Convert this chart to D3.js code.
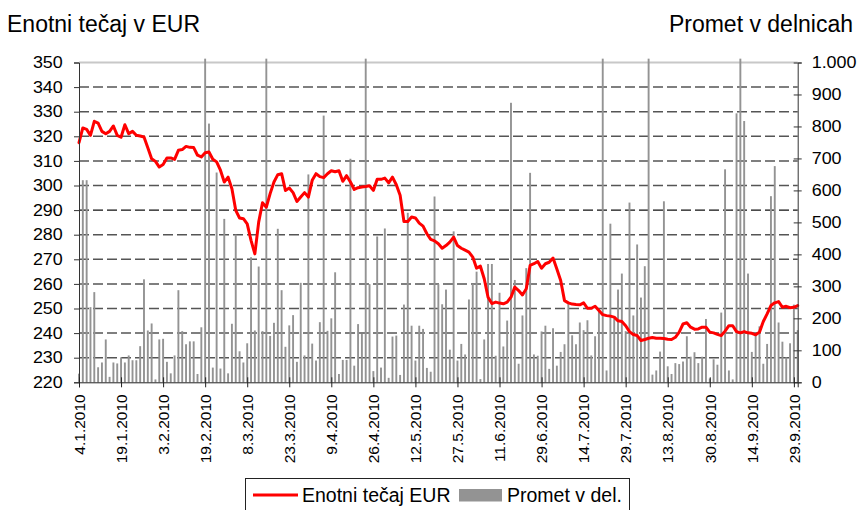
<!DOCTYPE html>
<html>
<head>
<meta charset="utf-8">
<script src="https://cdn.jsdelivr.net/npm/d3@7/dist/d3.min.js"></script>
<style>
  html, body { margin: 0; padding: 0; background: #fff; }
  svg { display: block; font-family: "Liberation Sans", Arial, sans-serif; }
</style>
</head>
<body>
<div id="chart"></div>
<script>
// ── Data ──────────────────────────────────────────────────────────────────────
// Trading days 4.1.2010 – 30.9.2010 (weekdays minus exchange holidays)
const firstDay = '2010-01-04';
const lastDay  = '2010-09-30';
const holidays = ['2010-02-08', '2010-04-02', '2010-04-05', '2010-04-27', '2010-06-25'];

const tickLabels = [
  '4.1.2010', '19.1.2010', '3.2.2010', '19.2.2010', '8.3.2010', '23.3.2010',
  '9.4.2010', '26.4.2010', '12.5.2010', '27.5.2010', '11.6.2010', '29.6.2010',
  '14.7.2010', '29.7.2010', '13.8.2010', '30.8.2010', '14.9.2010', '29.9.2010'
];

// Enotni tečaj (EUR), one value per trading day
const price = [
  317.4, 323.4, 322.8, 320.4, 326.1, 325.4, 322, 321, 322, 324.2,
  320.4, 319.6, 324.7, 321.1, 322, 320.4, 320.1, 319.7, 315.3, 310.9,
  309.8, 307.5, 308.5, 311.2, 311.2, 310.6, 314.3, 314.6, 315.9, 315.5,
  315.4, 312.3, 311.6, 313.3, 313.6, 310.7, 309.6, 306.2, 301.4, 303.4,
  298.7, 289.9, 286.8, 286.5, 284.4, 277.7, 272.2, 285.1, 293, 291.2,
  296.7, 301.4, 304.4, 304.8, 298, 299, 297.1, 293.5, 295.3, 297.1,
  295.3, 302.1, 304.8, 303.6, 303.2, 304.8, 306, 305.6, 306, 301.7,
  304, 301.4, 298.4, 299.1, 299.4, 299.6, 299.9, 298, 302.5, 302.5,
  303, 301.1, 303.4, 300.3, 296, 285.4, 285.4, 287.2, 286.8, 284.7,
  283.5, 280.4, 278.1, 277.5, 276.3, 274.5, 275.6, 277, 279, 275.6,
  274.5, 273.7, 272.9, 270.9, 266.4, 267.2, 262.1, 254.6, 252, 252.6,
  252.2, 251.9, 252.6, 254.6, 258.7, 257.3, 255.5, 258, 267.5, 268.2,
  269.1, 266.4, 268.2, 268.8, 270.5, 266.1, 261.4, 253.2, 252.3, 251.8,
  251.6, 251.5, 252.3, 250.1, 250.1, 250.9, 249.2, 247.5, 247.1, 246.9,
  246.5, 245, 244.7, 243, 240.6, 239.4, 239, 237, 237.4, 237.9,
  238.2, 237.9, 237.9, 237.8, 237.5, 237.4, 238.3, 240.4, 243.7, 244.2,
  242.4, 241.6, 241.7, 242.4, 242.4, 240.4, 240.1, 239.5, 239, 240.8,
  243, 243, 240.6, 240.1, 240.6, 240.1, 239.9, 239.3, 240.4, 244.7,
  247.8, 251.2, 252.3, 252.8, 250.5, 250.9, 250.3, 250.5, 251.2
];

// Promet v delnicah (shares traded); days above 1.000 run past the top of the axis
const volume = [
  27, 632, 632, 235, 282, 47, 62, 134, 17, 62,
  59, 78, 62, 84, 69, 69, 113, 322, 162, 184,
  9, 134, 136, 64, 28, 84, 288, 160, 119, 128,
  128, 26, 172, 1012, 809, 46, 656, 43, 511, 28,
  183, 462, 97, 62, 122, 391, 162, 362, 160, 1012,
  145, 186, 480, 288, 111, 178, 210, 64, 311, 84,
  650, 121, 68, 188, 834, 161, 200, 344, 26, 70,
  70, 699, 52, 182, 151, 1012, 307, 35, 456, 46,
  481, 14, 143, 146, 23, 243, 530, 177, 68, 177,
  167, 45, 33, 581, 307, 244, 290, 102, 472, 68,
  120, 87, 259, 307, 346, 10, 134, 370, 370, 83,
  280, 112, 193, 874, 320, 58, 209, 357, 655, 87,
  83, 159, 177, 42, 169, 52, 95, 119, 250, 147,
  119, 187, 163, 194, 84, 144, 230, 1012, 37, 496,
  200, 290, 340, 160, 562, 209, 431, 265, 363, 1012,
  24, 37, 96, 566, 50, 26, 60, 57, 65, 144,
  80, 94, 60, 80, 198, 12, 72, 55, 218, 666,
  37, 9, 841, 1012, 817, 340, 95, 155, 175, 58,
  120, 582, 676, 187, 127, 78, 122, 243, 163
];

const leftTicks  = [220, 230, 240, 250, 260, 270, 280, 290, 300, 310, 320, 330, 340, 350];
const rightTicks = [0, 100, 200, 300, 400, 500, 600, 700, 800, 900, 1000];

// ── Build trading calendar ───────────────────────────────────────────────────
const dates = [];
for (let t = new Date(firstDay + 'T00:00:00Z'); t <= new Date(lastDay + 'T00:00:00Z'); t = new Date(t.getTime() + 864e5)) {
  const wd = t.getUTCDay();
  const iso = t.toISOString().slice(0, 10);
  if (wd === 0 || wd === 6 || holidays.includes(iso)) continue;
  dates.push(t);
}
const fmtDay = d => `${d.getUTCDate()}.${d.getUTCMonth() + 1}.${d.getUTCFullYear()}`;
const labels = dates.map(fmtDay);

// ── Layout ───────────────────────────────────────────────────────────────────
const W = 859, H = 510;
const plot = { left: 79, right: 797.7, top: 62.5, bottom: 382.3 };
const font = '"Liberation Sans", Arial, sans-serif';
const stretch = 1.12;   // horizontal text in the original is slightly widened

const svg = d3.select('#chart').append('svg')
  .attr('width', W).attr('height', H)
  .attr('viewBox', `0 0 ${W} ${H}`);

const x = d3.scalePoint()
  .domain(d3.range(dates.length))
  .range([plot.left, plot.right]);

const yL = d3.scaleLinear().domain([220, 350]).range([plot.bottom, plot.top]);
const yR = d3.scaleLinear().domain([0, 1000]).range([plot.bottom, plot.top]);

const slLocale = d3.formatLocale({ decimal: ',', thousands: '.', grouping: [3], currency: ['', ' €'] });
const fmtR = slLocale.format(',');

// ── Gridlines ────────────────────────────────────────────────────────────────
const grid = svg.append('g');
leftTicks.filter(v => v > 220 && v < 350).forEach(v => {
  grid.append('line')
    .attr('x1', plot.left).attr('x2', plot.right)
    .attr('y1', yL(v)).attr('y2', yL(v))
    .attr('stroke', v === 290 ? '#111' : '#555')
    .attr('stroke-width', v === 290 ? 1.2 : 1.5)
    .attr('stroke-dasharray', '10,4');
});
grid.append('line')
  .attr('x1', plot.left).attr('x2', plot.right)
  .attr('y1', yL(350)).attr('y2', yL(350))
  .attr('stroke', '#c8c8c8').attr('stroke-width', 2);

// ── Volume bars (right axis) ─────────────────────────────────────────────────
const barW = 1.9;
svg.append('g').selectAll('rect')
  .data(volume)
  .join('rect')
  .attr('x', (d, i) => x(i) - barW / 2)
  .attr('y', d => yR(d))
  .attr('width', barW)
  .attr('height', d => yR(0) - yR(d))
  .attr('fill', '#939393');

// ── Price line (left axis) ───────────────────────────────────────────────────
const line = d3.line()
  .x((d, i) => x(i))
  .y(d => yL(d))
  .curve(d3.curveLinear);

svg.append('path')
  .datum(price)
  .attr('fill', 'none')
  .attr('stroke', '#ff0000')
  .attr('stroke-width', 3)
  .attr('stroke-linejoin', 'round')
  .attr('stroke-linecap', 'round')
  .attr('d', line);

// ── Axes ─────────────────────────────────────────────────────────────────────
const axL = svg.append('g')
  .attr('transform', `translate(${plot.left},0)`)
  .call(d3.axisLeft(yL).tickValues(leftTicks).tickSize(5).tickPadding(9.5).tickFormat(d3.format('d')));
axL.select('.domain').attr('stroke', '#333');
axL.selectAll('.tick line').attr('stroke', '#333');
axL.selectAll('text')
  .attr('font-family', font).attr('font-size', 16).attr('fill', '#000')
  .attr('dy', '0.33em')
  .attr('transform', `scale(${stretch},1)`);

const axR = svg.append('g')
  .attr('transform', `translate(${plot.right},0)`)
  .call(d3.axisRight(yR).tickValues(rightTicks).tickSize(4).tickPadding(8.5).tickFormat(fmtR));
axR.select('.domain').attr('stroke', '#333');
axR.selectAll('.tick line').attr('stroke', '#333').attr('x1', -4);
axR.selectAll('text')
  .attr('font-family', font).attr('font-size', 16).attr('fill', '#000')
  .attr('dy', '0.33em')
  .attr('transform', `scale(${stretch},1)`);

// x axis — category ticks only at the labelled days
const tickIdx = tickLabels.map(l => labels.indexOf(l)).filter(i => i >= 0);
const axB = svg.append('g')
  .attr('transform', `translate(0,${plot.bottom})`)
  .call(d3.axisBottom(x).tickValues(tickIdx).tickSize(5).tickFormat(''));
axB.select('.domain').attr('stroke', '#222');
axB.selectAll('.tick line').attr('stroke', '#222').attr('y1', -5);

svg.append('g').selectAll('text')
  .data(tickIdx)
  .join('text')
  .attr('transform', i => `translate(${x(i)},${plot.bottom + 12}) rotate(-90)`)
  .attr('text-anchor', 'end')
  .attr('dy', '0.37em')
  .attr('font-family', font).attr('font-size', 15.5).attr('fill', '#000')
  .text(i => labels[i]);

// ── Axis titles ──────────────────────────────────────────────────────────────
svg.append('text')
  .attr('x', 7).attr('y', 32)
  .attr('font-family', font).attr('font-size', 23).attr('fill', '#000')
  .text('Enotni tečaj v EUR');

svg.append('text')
  .attr('x', 853).attr('y', 32)
  .attr('text-anchor', 'end')
  .attr('font-family', font).attr('font-size', 23).attr('fill', '#000')
  .text('Promet v delnicah');

// ── Legend ───────────────────────────────────────────────────────────────────
const lg = svg.append('g');
lg.append('rect')
  .attr('x', 245.5).attr('y', 478.5).attr('width', 384).attr('height', 40)
  .attr('fill', '#fff').attr('stroke', '#222').attr('stroke-width', 1);
lg.append('line')
  .attr('x1', 253).attr('x2', 298).attr('y1', 495).attr('y2', 495)
  .attr('stroke', '#ff0000').attr('stroke-width', 3);
lg.append('text')
  .attr('x', 302).attr('y', 501.5)
  .attr('font-family', font).attr('font-size', 19.5).attr('fill', '#000')
  .text('Enotni tečaj EUR');
lg.append('rect')
  .attr('x', 459).attr('y', 489).attr('width', 43).attr('height', 12.5)
  .attr('fill', '#939393');
lg.append('text')
  .attr('x', 507).attr('y', 501.5)
  .attr('font-family', font).attr('font-size', 19.5).attr('fill', '#000')
  .text('Promet v del.');
</script>
</body>
</html>
